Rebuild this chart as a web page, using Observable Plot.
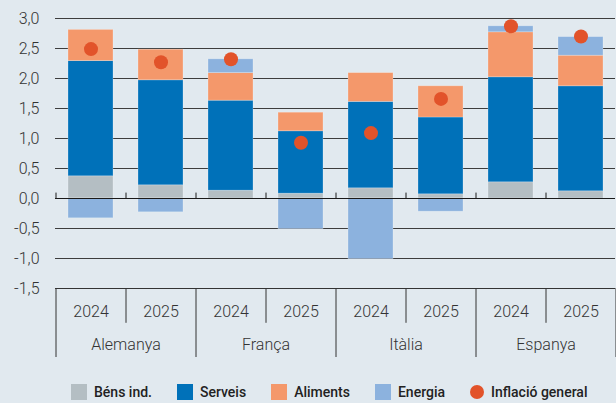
<!DOCTYPE html>
<html>
<head>
<meta charset="utf-8">
<script src="https://cdn.jsdelivr.net/npm/d3@7"></script>
<script src="https://cdn.jsdelivr.net/npm/@observablehq/plot@0.6"></script>
<style>
  html, body { margin: 0; padding: 0; background: #e1e9ef; width: 616px; height: 403px; overflow: hidden; }
  #chart svg { display: block; }
  #legend { position: relative; height: 28px; margin-top: 3px; display: flex; align-items: center; gap: 0; padding-left: 71px;
    font-family: Roboto, sans-serif; font-weight: 500; font-size: 14px; color: #222; }
  .item { display: flex; align-items: center; margin-right: 25px; }
  .sw { width: 16px; height: 16px; margin-right: 7px; }
  .dot { width: 14px; height: 14px; border-radius: 50%; margin-right: 7px; }
</style>
</head>
<body>
<div id="chart"></div>
<div id="legend"></div>
<script>
const countries = ["Alemanya", "França", "Itàlia", "Espanya"];
const years = ["2024", "2025"];
const components = ["Béns ind.", "Serveis", "Aliments", "Energia"];
const bensInd  = [0.37, 0.22, 0.13, 0.08, 0.17, 0.07, 0.27, 0.12];
const serveis  = [1.92, 1.75, 1.50, 1.04, 1.44, 1.28, 1.75, 1.75];
const aliments = [0.52, 0.51, 0.46, 0.31, 0.48, 0.52, 0.75, 0.51];
const energia  = [-0.33, -0.23, 0.23, -0.51, -1.01, -0.22, 0.10, 0.31];
const inflacio = [2.49, 2.27, 2.32, 0.93, 1.09, 1.66, 2.87, 2.70];
const inflacioLabel = "Inflació general";
const yTicks = [-1.5, -1.0, -0.5, 0.0, 0.5, 1.0, 1.5, 2.0, 2.5, 3.0];

const colors = ["#b4bec3", "#0071b9", "#f4986b", "#8cb2de"];
const dotColor = "#e2532a";

const rows = countries.flatMap(c => years.map(y => ({country: c, year: y, key: c + " " + y})));
const keys = rows.map(r => r.key);
const series = [bensInd, serveis, aliments, energia];
const stackData = components.flatMap((comp, j) => rows.map((r, i) => ({key: r.key, comp, value: series[j][i]})));
const dots = rows.map((r, i) => ({key: r.key, value: inflacio[i]}));

const width = 616, marginLeft = 55, marginRight = 1;
const step = (width - marginLeft - marginRight) / keys.length;
const fmt = d => d.toFixed(1).replace(".", ",");

const chart = Plot.plot({
  width, height: 375,
  marginLeft, marginRight, marginTop: 18, marginBottom: 87,
  style: {background: "transparent", fontFamily: "Roboto, sans-serif", fontSize: "16px", fontWeight: 300, color: "#333"},
  x: {domain: keys, paddingInner: 0.36, paddingOuter: 0.18, axis: null},
  y: {domain: [-1.5, 3], ticks: yTicks, tickFormat: fmt, tickSize: 0, tickPadding: 16, label: null},
  color: {domain: components, range: colors},
  marks: [
    Plot.ruleY(yTicks.filter(d => d !== 0 && d !== -1.5), {stroke: "#3d3d3d"}),
    Plot.barY(stackData, {x: "key", y: "value", fill: "comp", stroke: "#ffffff", strokeOpacity: 0.3, strokeWidth: 0.8}),
    Plot.ruleY([0], {stroke: "#1a1a1a"}),
    Plot.ruleX(rows, {x: "key", dx: -step / 2, y1: 0, y2: 0.09, stroke: "#1a1a1a"}),
    Plot.ruleY([-1.5], {stroke: "#333"}),
    Plot.ruleX(rows, {x: "key", dx: -step / 2, y1: -1.5, y2: d => d.year === years[0] ? -2.65 : -2.08, stroke: "#333"}),
    Plot.ruleX([keys[keys.length - 1]], {x: d => d, dx: step / 2, y1: -1.5, y2: -2.65, stroke: "#333"}),
    Plot.text(rows, {x: "key", y: -1.5, dy: 23, text: "year", fontSize: 16, fill: "#333"}),
    Plot.text(countries, {x: d => d + " " + years[0], y: -1.5, dx: step / 2, dy: 56, text: d => d, fontSize: 16, fill: "#333"}),
    Plot.dot(dots, {x: "key", y: "value", r: 7, fill: dotColor})
  ]
});
document.getElementById("chart").appendChild(chart);

const legend = document.getElementById("legend");
components.forEach((c, i) => {
  const it = document.createElement("div");
  it.className = "item";
  it.innerHTML = `<div class="sw" style="background:${colors[i]}"></div><span>${c}</span>`;
  legend.appendChild(it);
});
const it = document.createElement("div");
it.className = "item";
it.innerHTML = `<div class="dot" style="background:${dotColor}"></div><span>${inflacioLabel}</span>`;
legend.appendChild(it);
</script>
</body>
</html>
